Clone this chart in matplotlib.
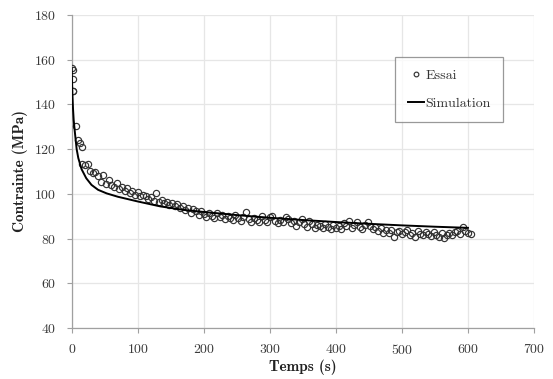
import matplotlib
matplotlib.use("Agg")
import matplotlib.pyplot as plt
import numpy as np

# ---- Data ----
essai_t = [1, 1.5, 1.5, 2, 2, 6.5, 9, 12.5, 15,
           16, 20, 24, 28, 32, 36, 40, 44, 48, 52, 56, 60, 64, 68, 72, 76, 80, 84, 88, 92,
           96, 100, 104, 108, 112, 116, 120, 124, 128, 132, 136, 140, 144, 148, 152, 156,
           160, 164, 168, 172, 176, 180, 184, 188, 192, 196, 200, 204, 208, 212, 216, 220,
           224, 228, 232, 236, 240, 244, 248, 252, 256, 260, 264, 268, 272, 276, 280, 284,
           288, 292, 296, 300, 304, 308, 312, 316, 320, 324, 328, 332, 336, 340, 344, 348,
           352, 356, 360, 364, 368, 372, 376, 380, 384, 388, 392, 396, 400, 404, 408, 412,
           416, 420, 424, 428, 432, 436, 440, 444, 448, 452, 456, 460, 464, 468, 472, 476,
           480, 484, 488, 492, 496, 500, 504, 508, 512, 516, 520, 524, 528, 532, 536, 540,
           544, 548, 552, 556, 560, 564, 568, 572, 576, 580, 584, 588, 592, 596, 600, 604]
essai_s = [156.5, 155.5, 151.5, 146.0, 145.8, 130.3, 124.0, 122.7, 121.0,
           113.5, 112.8, 113.2, 110.2, 109.5, 110.0, 107.8, 105.2, 108.3, 104.3, 106.2, 103.8,
           102.9, 104.8, 102.0, 103.1, 101.2, 102.6, 100.4, 101.5, 99.6, 100.8, 98.9, 99.7,
           99.2, 97.8, 98.6, 96.9, 100.2, 96.4, 97.3, 95.8, 96.5, 95.1, 95.9, 94.6, 95.4,
           93.8, 94.7, 92.6, 93.5, 91.4, 93.1, 92.2, 90.6, 92.4, 91.0, 89.8, 91.6, 90.3,
           89.2, 91.5, 89.6, 90.4, 88.7, 90.1, 89.0, 88.3, 90.6, 89.4, 88.0, 89.7, 91.8,
           88.6, 87.6, 89.2, 88.1, 87.4, 89.9, 88.5, 87.2, 89.6, 90.2, 87.8, 86.8, 88.4,
           87.3, 89.5, 88.9, 86.9, 87.9, 85.8, 87.4, 88.6, 86.3, 85.2, 88.0, 86.6, 84.9,
           86.1, 85.5, 84.6, 86.4, 85.1, 84.3, 85.9, 84.8, 85.7, 84.2, 86.9, 85.4, 87.8,
           84.7, 86.2, 87.6, 85.0, 84.4, 86.0, 87.2, 85.6, 84.1, 85.2, 83.4, 84.6, 82.7,
           83.9, 82.3, 84.0, 80.8, 82.9, 83.6, 81.9, 82.8, 83.8, 81.6, 82.5, 80.9, 83.2,
           82.1, 81.4, 83.0, 82.2, 81.0, 82.9, 81.8, 80.9, 82.4, 80.3, 81.7, 82.6, 81.5,
           82.8, 83.3, 82.1, 85.0, 83.6, 82.4, 81.9]

sim_t = [0, 0.5, 1, 2, 3, 5, 7.5, 10, 15, 22, 30, 40, 53, 70, 100, 134, 170, 200, 250,
         300, 350, 400, 450, 500, 550, 600]
sim_s = [156, 150, 145, 138, 133, 127, 120, 116, 111, 107, 104, 101.8, 100.2, 98.7,
         96.6, 94.4, 92.8, 91.9, 90.5, 89.3, 88.3, 87.4, 86.6, 85.9, 85.3, 84.8]

x_ticks = [0, 100, 200, 300, 400, 500, 600, 700]
y_ticks = [40, 60, 80, 100, 120, 140, 160, 180]

plt.rcParams['axes.formatter.use_mathtext'] = True
plt.rcParams['font.family'] = ['cmr10', 'DejaVu Serif']

fig = plt.figure(figsize=(5.53, 3.79), dpi=100)
ax = fig.add_axes([71.7 / 553, 1 - 328 / 379, (534 - 71.7) / 553, (328 - 15) / 379])

ax.plot(essai_t, essai_s, linestyle='none', marker='o', markersize=4.5,
        markerfacecolor='none', markeredgecolor='#333333', markeredgewidth=0.85,
        label='Essai', zorder=3)
ax.plot(sim_t, sim_s, color='black', linewidth=1.4, label='Simulation', zorder=4)

ax.set_xlim(0, 700)
ax.set_ylim(40, 180)
ax.set_xticks(x_ticks)
ax.set_yticks(y_ticks)
ax.grid(True, color='#e6e6e6', linewidth=0.9)
ax.set_axisbelow(True)
for s in ['top', 'right']:
    ax.spines[s].set_visible(False)
for s in ['left', 'bottom']:
    ax.spines[s].set_color('#a0a0a0')
    ax.spines[s].set_linewidth(0.9)
ax.tick_params(axis='both', colors='#a0a0a0', labelcolor='#3a3a3a', labelsize=10,
               length=3.6, width=0.8, direction='out', pad=7.2)

ax.set_xlabel('Temps (s)', family=['cmb10', 'DejaVu Serif'], fontsize=11, color='#222222', labelpad=2)
ax.set_ylabel('Contrainte (MPa)', family=['cmb10', 'DejaVu Serif'], fontsize=11, color='#222222', labelpad=5)

leg = ax.legend(loc='upper left', bbox_to_anchor=(395 / 553, 1 - 56.7 / 379),
                bbox_transform=fig.transFigure, borderaxespad=0, fancybox=False,
                frameon=True, edgecolor='#808080', fontsize=10, handlelength=1.2,
                handletextpad=0.1, labelspacing=1.1, borderpad=0.9, markerscale=0.75)
leg.get_frame().set_linewidth(0.9)
for t in leg.get_texts():
    t.set_color('#333333')

fig.savefig('out.png', dpi=100)
